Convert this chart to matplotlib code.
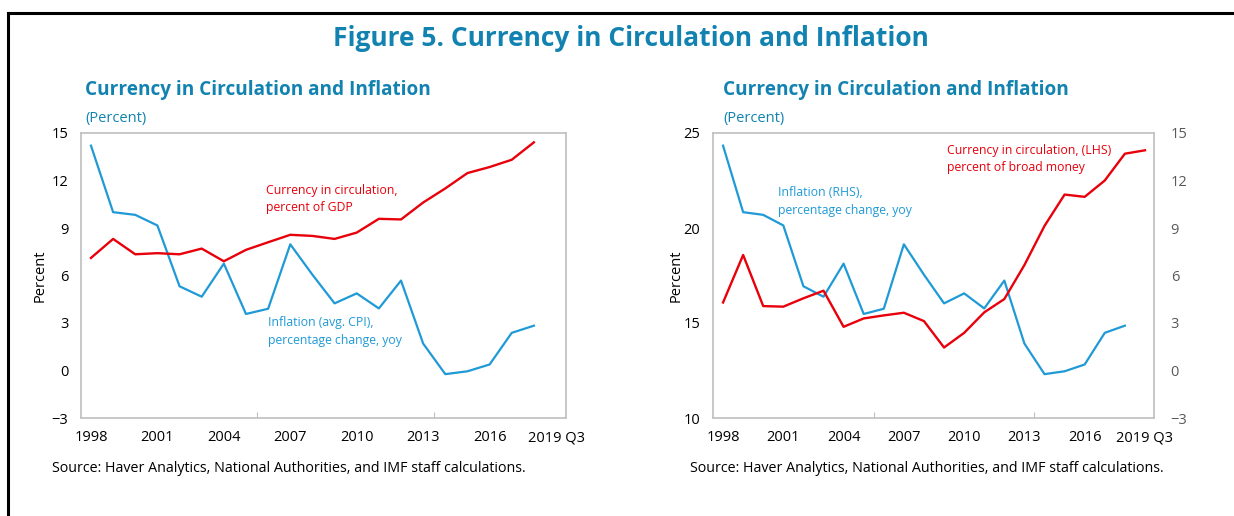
import matplotlib.pyplot as plt
from matplotlib.lines import Line2D

plt.rcParams['font.family'] = ['Open Sans', 'DejaVu Sans']

years = list(range(1998, 2020))
tick_labels = ['1998', '2001', '2004', '2007', '2010', '2013', '2016', '2019 Q3']

# inflation, avg. CPI, percent yoy (1998-2018)
inflation = [14.2, 10.0, 9.83, 9.16, 5.32, 4.66, 6.75, 3.57, 3.90, 7.97, 6.05,
             4.24, 4.87, 3.92, 5.68, 1.70, -0.23, -0.05, 0.38, 2.38, 2.83]
# currency in circulation, percent of GDP (1998-2018)
cic_gdp = [7.11, 8.31, 7.34, 7.41, 7.34, 7.70, 6.90, 7.62, 8.10, 8.57, 8.50,
           8.31, 8.71, 9.58, 9.54, 10.61, 11.50, 12.47, 12.85, 13.31, 14.41]
# currency in circulation, percent of broad money (1998-2019 Q3)
cic_money = [16.08, 18.58, 15.89, 15.86, 16.30, 16.70, 14.80, 15.24, 15.40,
             15.54, 15.10, 13.71, 14.48, 15.56, 16.26, 18.05, 20.11, 21.76,
             21.64, 22.50, 23.91, 24.09]

RED = '#e8000b'
BLUE = '#1f9ad6'
TITLE = '#1283b0'
FRAME = '#bfbfbf'

fig = plt.figure(figsize=(12.34, 5.16), dpi=100)

# page border (top and left only)
fig.add_artist(Line2D([8 / 1234, 1], [1 - 13 / 516, 1 - 13 / 516],
                      transform=fig.transFigure, color='black', lw=2.2))
fig.add_artist(Line2D([8 / 1234, 8 / 1234], [0, 1 - 13 / 516],
                      transform=fig.transFigure, color='black', lw=2.2))

fig.text(0.511, 0.925, 'Figure 5. Currency in Circulation and Inflation',
         ha='center', va='center', fontsize=19, fontweight='bold', color=TITLE)


def style_axes(ax):
    for s in ax.spines.values():
        s.set_color(FRAME)
        s.set_linewidth(1.2)
    ax.set_xlim(-0.45, 21.45)
    ax.set_xticks([2005.5 - 1998, 2013.5 - 1998])
    ax.set_xticklabels([])
    ax.tick_params(axis='x', direction='in', length=4, color=FRAME)
    ax.tick_params(axis='y', length=0, labelsize=10.5, pad=9)
    lab_x = [y - 1998 for y in [1998, 2001, 2004, 2007, 2010, 2013, 2016, 2019]]
    for xx, lab in zip(lab_x, tick_labels):
        ax.text(xx, -0.07, lab, transform=ax.get_xaxis_transform(),
                ha='center', va='center', fontsize=10.5)


def panel_header(x0):
    fig.text(x0, 0.825, 'Currency in Circulation and Inflation',
             fontsize=13.7, fontweight='bold', color=TITLE, va='center')
    fig.text(x0, 0.77, '(Percent)', fontsize=10.5, color=TITLE, va='center')


x21 = list(range(21))
x22 = list(range(22))

# left panel
ax1 = fig.add_axes([81 / 1234, 1 - 418 / 516, 485 / 1234, 285 / 516])
ax1.plot(x21, inflation, color=BLUE, lw=1.6)
ax1.plot(x21, cic_gdp, color=RED, lw=1.7)
ax1.set_ylim(-3, 15)
ax1.set_yticks(range(-3, 16, 3))
ax1.set_ylabel('Percent', fontsize=10.5, labelpad=3)
style_axes(ax1)
ax1.text(7.9, 10.85, 'Currency in circulation,\npercent of GDP', color=RED,
         fontsize=8.8, va='center', linespacing=1.4)
ax1.text(8.0, 2.45, 'Inflation (avg. CPI),\npercentage change, yoy',
         color=BLUE, fontsize=8.8, va='center', linespacing=1.45)
panel_header(85 / 1234)
fig.text(52 / 1234, 1 - 468 / 516,
         'Source: Haver Analytics, National Authorities, and IMF staff calculations.',
         fontsize=10.25, va='center')

# right panel
ax2 = fig.add_axes([713 / 1234, 1 - 418 / 516, 441 / 1234, 285 / 516])
ax2.plot(x22, cic_money, color=RED, lw=1.7, zorder=3)
ax2.set_ylim(10, 25)
ax2.set_yticks([10, 15, 20, 25])
ax2.set_ylabel('Percent', fontsize=10.5, labelpad=0)
style_axes(ax2)
ax2.set_xlim(-0.5, 21.45)
ax2r = ax2.twinx()
ax2r.plot(x21, inflation, color=BLUE, lw=1.6)
ax2r.set_ylim(-3, 15)
ax2r.set_yticks(range(-3, 16, 3))
ax2r.tick_params(axis='y', length=0, labelsize=10.5, pad=12, labelcolor='#595959')
for s in ax2r.spines.values():
    s.set_visible(False)
ax2.set_zorder(ax2r.get_zorder() + 1)
ax2.patch.set_visible(False)
ax2.text(0.147, 0.76, 'Inflation (RHS),\npercentage change, yoy',
         transform=ax2.transAxes, color=BLUE, fontsize=8.8, va='center',
         linespacing=1.45)
ax2.text(0.53, 0.908, 'Currency in circulation, (LHS)\npercent of broad money',
         transform=ax2.transAxes, color=RED, fontsize=8.8, va='center',
         linespacing=1.4)
panel_header(723 / 1234)
fig.text(690 / 1234, 1 - 468 / 516,
         'Source: Haver Analytics, National Authorities, and IMF staff calculations.',
         fontsize=10.25, va='center')

fig.savefig('out.png', dpi=100)
